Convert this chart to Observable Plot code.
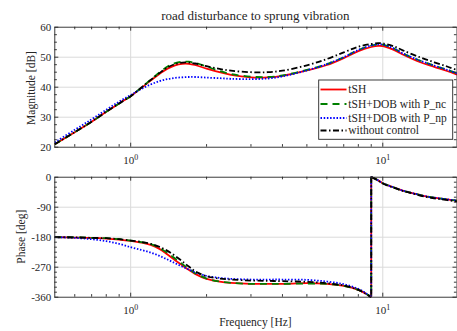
<!DOCTYPE html>
<html><head><meta charset="utf-8">
<script src="https://cdn.jsdelivr.net/npm/d3@7"></script>
<script src="https://cdn.jsdelivr.net/npm/@observablehq/plot@0.6"></script>
<style>
html,body{margin:0;padding:0;background:#fff;}
#chart{position:relative;width:457px;height:331px;overflow:hidden;font-family:'Liberation Serif',serif;color:#262626;}
#chart > *{position:absolute;}
.lbl{line-height:1;white-space:nowrap;text-align:center;}
</style></head><body><div id="chart"></div><script>
// ---- data ----
const titleText = "road disturbance to sprung vibration";
const xLabelText = "Frequency [Hz]";
const magLabelText = "Magnitude [dB]";
const phaseLabelText = "Phase [deg]";
const seriesNames = ["tSH", "tSH+DOB with P_nc", "tSH+DOB with P_np", "without control"];
const freqTicks = [1, 10];
const magTicks = [20, 30, 40, 50, 60];
const phaseTicks = [-360, -270, -180, -90, 0];

const freqMag = [0.5,0.6,0.7,0.8,0.9,1.0,1.1,1.2,1.3,1.4,1.5,1.6,1.7,1.8,2.0,2.25,2.5,3.0,3.5,4.0,5.0,6.0,7.0,8.0,9.0,9.6,10,11,12,14,16,18,19.7];
const magTSH   = [21.0,25.0,28.5,31.8,34.6,37.0,39.7,42.2,44.4,46.2,47.3,47.8,47.8,47.4,46.2,45.0,44.1,43.3,43.3,43.8,45.6,47.4,49.7,52.0,53.4,53.8,53.7,52.5,50.9,48.4,46.8,45.4,44.2];
const magPnc   = [21.0,25.0,28.5,31.8,34.6,37.0,39.8,42.5,44.9,46.9,48.0,48.5,48.5,48.1,46.9,45.4,44.4,43.5,43.4,43.9,45.8,47.7,50.0,52.4,53.9,54.3,54.2,53.0,51.3,48.9,47.2,45.8,44.6];
const magPnp   = [21.6,25.8,29.3,32.5,35.2,37.4,39.4,40.9,42.0,42.7,43.1,43.3,43.4,43.4,43.2,43.0,42.8,42.7,42.9,43.6,45.6,47.7,50.0,52.4,53.9,54.3,54.2,53.0,51.3,48.9,47.2,45.8,44.6];
const magNone  = [21.0,25.0,28.5,31.8,34.6,37.0,39.8,42.4,44.7,46.6,47.7,48.2,48.2,47.9,47.0,46.1,45.5,45.0,45.0,45.5,47.3,49.4,51.6,53.5,54.4,54.7,54.6,53.7,52.3,50.0,48.3,46.9,45.7];

const phaseWrapFreq = 9.0;
const freqPh   = [0.5,0.6,0.7,0.8,0.9,1.0,1.1,1.2,1.3,1.4,1.5,1.6,1.7,1.8,2.0,2.25,2.5,3.0,3.5,4.0,5.0,6.0,7.0,8.0,8.5,9.0,9.0,9.0,9.5,10,11,12,13,15,17,19.7];
const phTSH    = [-180,-181,-182,-184,-187,-191,-196,-203,-215,-232,-249,-264,-278,-290,-305,-313,-317,-320,-320,-320,-318,-320,-326,-338,-348,-360,NaN,0,-8,-18,-30,-40,-47,-58,-64,-70];
const phPnc    = [-180,-180.5,-182,-183,-186,-190,-195,-201,-212,-227,-244,-260,-275,-288,-304,-313,-317,-320,-320,-320,-319,-320,-326,-338,-348,-360,NaN,0,-8,-18,-30,-40,-47,-58,-64,-70];
const phPnp    = [-180,-182,-186,-192,-200,-210,-218,-226,-236,-247,-258,-268,-277,-285,-296,-302,-305,-307,-307,-307,-308,-313,-321,-335,-346,-360,NaN,0,-8,-18,-30,-40,-47,-58,-64,-70];
const phNone   = [-180,-180.5,-182,-183,-186,-190,-194,-200,-209,-221,-236,-252,-268,-282,-297,-304,-307,-310,-311,-312,-314,-318,-325,-338,-348,-360,NaN,0,-8,-19,-31,-41,-48,-60,-66,-73];

// ---- styles ----
const FONT = "'Liberation Serif', serif";
const styles = [
  {stroke:"#ff0000", strokeWidth:1.8},
  {stroke:"#008000", strokeWidth:1.8, strokeDasharray:"7,5"},
  {stroke:"#0000ff", strokeWidth:1.8, strokeDasharray:"1.5,1.7"},
  {stroke:"#000000", strokeWidth:1.8, strokeDasharray:"6,2.5,1.5,2.5"}
];
const magSeries = [magTSH, magPnc, magPnp, magNone];
const phSeries = [phTSH, phPnc, phPnp, phNone];

const W = 457, ML = 54.3, MR = 0.5;
const FW = W - ML - MR;
const gridStyle = {stroke:"#dadada", strokeOpacity:1, strokeWidth:1};
const tickStyle = {stroke:"#262626", strokeWidth:0.9};
const minorX = [0.6,0.7,0.8,0.9,2,3,4,5,6,7,8,9];

function tickMarks(FH, yMajor, yMinor) {
  const Lmaj = 4, Lmin = 2.6;
  return [
    Plot.tickX(freqTicks, {x:d=>d, insetTop:FH-Lmaj, ...tickStyle}),
    Plot.tickX(freqTicks, {x:d=>d, insetBottom:FH-Lmaj, ...tickStyle}),
    Plot.tickX(minorX, {x:d=>d, insetTop:FH-Lmin, ...tickStyle}),
    Plot.tickX(minorX, {x:d=>d, insetBottom:FH-Lmin, ...tickStyle}),
    Plot.tickY(yMajor, {y:d=>d, insetRight:FW-Lmaj, ...tickStyle}),
    Plot.tickY(yMajor, {y:d=>d, insetLeft:FW-Lmaj, ...tickStyle}),
    Plot.tickY(yMinor, {y:d=>d, insetRight:FW-Lmin, ...tickStyle}),
    Plot.tickY(yMinor, {y:d=>d, insetLeft:FW-Lmin, ...tickStyle})
  ];
}

function supTicks(svg) {
  svg.querySelectorAll('g[aria-label="x-axis tick label"] text').forEach((t, i) => {
    const e = Math.round(Math.log10(freqTicks[i]));
    t.textContent = "10";
    const ts = document.createElementNS("http://www.w3.org/2000/svg", "tspan");
    ts.setAttribute("dy", "-0.42em");
    ts.setAttribute("font-size", "0.72em");
    ts.textContent = String(e);
    t.appendChild(ts);
  });
}

const plotStyle = {fontFamily:FONT, fontSize:"11px", color:"#262626", background:"transparent", overflow:"visible"};

// ---- magnitude panel ----
const mTop = 26.7, mFH = 120, mH = 165;
const magMinor = d3.range(20, 60.01, 2.5).filter(v => v % 10 !== 0);
const magPlot = Plot.plot({
  width: W, height: mH,
  marginLeft: ML, marginRight: MR, marginTop: mTop, marginBottom: mH - mTop - mFH,
  style: plotStyle,
  x: {type:"log", domain:[0.5, 19.7]},
  y: {domain:[20, 60]},
  marks: [
    Plot.gridX(freqTicks, gridStyle),
    Plot.gridY(magTicks.slice(1, -1), gridStyle),
    ...magSeries.map((s, i) => Plot.line(freqMag, {x: d => d, y: (d, j) => s[j], curve:"catmull-rom", strokeLinecap:"butt", ...styles[i]})),
    ...tickMarks(mFH, magTicks, magMinor),
    Plot.frame({stroke:"#262626", strokeWidth:0.9}),
    Plot.axisY(magTicks, {tickSize:0, tickPadding:3.5, tickFormat:d=>String(d), label:null}),
    Plot.axisX(freqTicks, {tickSize:0, tickPadding:8.5, tickFormat:d=>"10", label:null})
  ]
});
supTicks(magPlot);

// ---- phase panel ----
const pTop = 11.7, pFH = 120, pH = 166;
const phMinor = d3.range(-360, 0.01, 15).filter(v => v % 90 !== 0);
const phPlot = Plot.plot({
  width: W, height: pH,
  marginLeft: ML, marginRight: MR, marginTop: pTop, marginBottom: pH - pTop - pFH,
  style: plotStyle,
  x: {type:"log", domain:[0.5, 19.7]},
  y: {domain:[-360, 0]},
  marks: [
    Plot.gridX(freqTicks, gridStyle),
    Plot.gridY(phaseTicks.slice(1, -1), gridStyle),
    ...phSeries.map((s, i) => Plot.line(freqPh, {x: d => d, y: (d, j) => s[j], curve:"catmull-rom", strokeLinecap:"butt", ...styles[i]})),
    ...styles.map(st => Plot.ruleX([phaseWrapFreq], {strokeLinecap:"butt", ...st})),
    ...tickMarks(pFH, phaseTicks, phMinor),
    Plot.frame({stroke:"#262626", strokeWidth:0.9}),
    Plot.axisY(phaseTicks, {tickSize:0, tickPadding:3.5, tickFormat:d=>String(d), label:null}),
    Plot.axisX(freqTicks, {tickSize:0, tickPadding:8.5, tickFormat:d=>"10", label:null})
  ]
});
supTicks(phPlot);

const chart = document.getElementById("chart");
magPlot.style.left = "0px"; magPlot.style.top = "0px";
phPlot.style.left = "0px"; phPlot.style.top = "165px";
chart.appendChild(magPlot);
chart.appendChild(phPlot);

const title = document.createElement("div");
title.className = "lbl";
title.style.cssText = `left:${ML}px;width:${FW}px;top:9.2px;font-size:13px;`;
title.textContent = titleText;
chart.appendChild(title);

const xl = document.createElement("div");
xl.className = "lbl";
xl.style.cssText = `left:${ML}px;width:${FW}px;top:316.5px;font-size:11.5px;`;
xl.textContent = xLabelText;
chart.appendChild(xl);

// ---- overlay: y labels + legend ----
const ov = d3.select(chart).append("svg")
  .attr("width", W).attr("height", 331)
  .style("left", "0px").style("top", "0px").style("pointer-events", "none");
ov.append("text").attr("transform", "translate(30.5,88) rotate(-90)")
  .attr("text-anchor", "middle").attr("dominant-baseline", "central")
  .attr("font-family", FONT).attr("font-size", 11.5).attr("fill", "#262626").text(magLabelText);
ov.append("text").attr("transform", "translate(21,236.7) rotate(-90)")
  .attr("text-anchor", "middle").attr("dominant-baseline", "central")
  .attr("font-family", FONT).attr("font-size", 11.5).attr("fill", "#262626").text(phaseLabelText);

ov.append("rect").attr("x", 318.7).attr("y", 80).attr("width", 134).attr("height", 59.3)
  .attr("fill", "white").attr("stroke", "#262626").attr("stroke-width", 0.9);
const rowsY = [89.5, 104, 118, 130.5];
seriesNames.forEach((name, i) => {
  const st = styles[i];
  ov.append("line").attr("x1", 320.5).attr("x2", 346.5).attr("y1", rowsY[i]).attr("y2", rowsY[i])
    .attr("stroke", st.stroke).attr("stroke-width", st.strokeWidth)
    .attr("stroke-dasharray", st.strokeDasharray || null);
  ov.append("text").attr("x", 348.3).attr("y", rowsY[i] + 3.8)
    .attr("font-family", FONT).attr("font-size", 11.5).attr("fill", "#262626")
    .text(name);
});
</script></body></html>
